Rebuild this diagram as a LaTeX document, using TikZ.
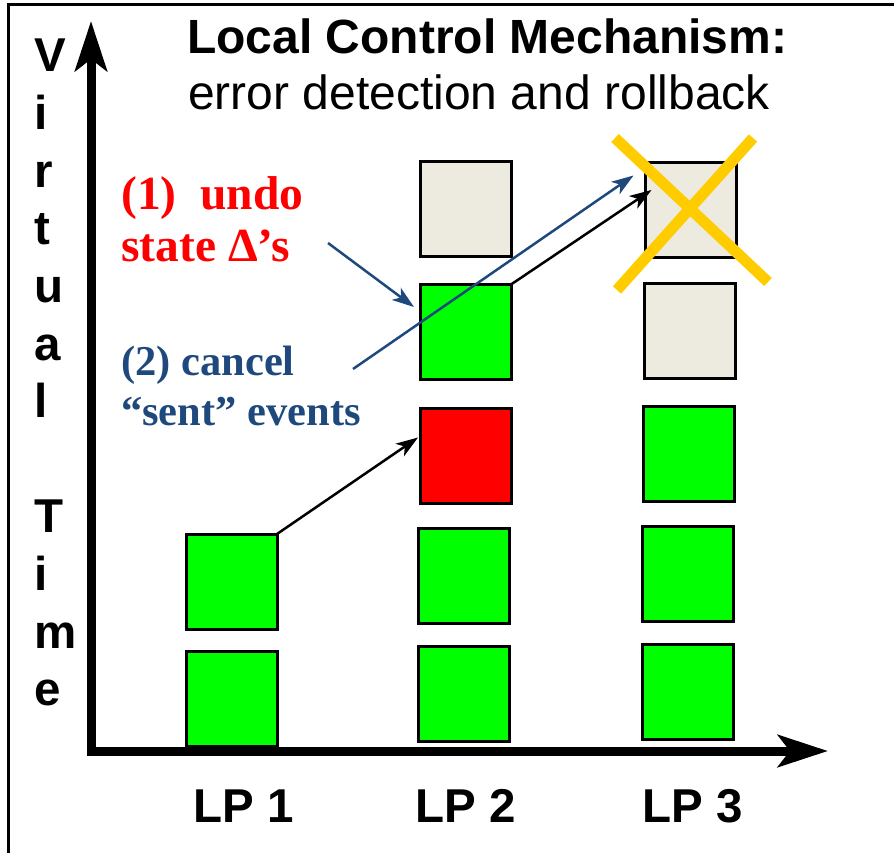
\documentclass[tikz,border=0pt]{standalone}
\usepackage{fontspec}
\setmainfont{Liberation Sans}
\newfontfamily\timesfont{Liberation Serif}
\usetikzlibrary{arrows.meta,calc}

\definecolor{boxgreen}{RGB}{0,255,0}
\definecolor{boxred}{RGB}{255,0,0}
\definecolor{boxgrey}{RGB}{237,234,223}
\definecolor{noteblue}{RGB}{31,73,125}
\definecolor{notered}{RGB}{255,0,0}
\definecolor{crossyellow}{RGB}{255,204,0}

\begin{document}
\begin{tikzpicture}[x=1pt,y=-1pt,
  evbox/.style={draw=black, line width=3pt, minimum width=91pt, minimum height=95pt,
                inner sep=0pt, outer sep=0pt},
  sanslbl/.style={anchor=base west, inner sep=0pt, font=\bfseries\fontsize{47.5}{57}\selectfont},
  axisline/.style={line width=9pt, -{Stealth[length=50pt,width=32pt,inset=12pt]}},
  msgarrow/.style={line width=2.5pt, -{Stealth[length=22pt,width=15pt,inset=6pt]}},
  notetext/.style={anchor=base west, inner sep=0pt, font=\timesfont\bfseries\fontsize{#1}{#1}\selectfont},
  crossline/.style={line width=11pt, crossyellow}]
\useasboundingbox (0,0) rectangle (894,853);

% frame (left and top edges)
\draw[line width=3pt] (8.5,853) -- (8.5,5) -- (894,5);

% title
\node[sanslbl, font=\bfseries\fontsize{48}{57}\selectfont] (title) at (187,54) {Local Control Mechanism:};
\node[sanslbl, font=\fontsize{48}{57}\selectfont] (subtitle) at (188,110) {error detection and rollback};

% vertical axis caption
\foreach \ch [count=\k from 0] in {V,i,r,t,u,a,l}
  \node[sanslbl] (vt\k) at (34,72+57.6*\k) {\ch};
\foreach \ch [count=\k from 8] in {T,i,m,e}
  \node[sanslbl] (vt\k) at (34,72+57.6*\k) {\ch};

% event boxes, LP 1
\node[evbox, fill=boxgreen] (a1) at (231.5,699) {};
\node[evbox, fill=boxgreen] (a2) at (231.5,581.5) {};
% LP 2
\node[evbox, fill=boxgreen] (b1) at (464,693.5) {};
\node[evbox, fill=boxgreen] (b2) at (464,576) {};
\node[evbox, fill=boxred]   (b3) at (465.5,455.5) {};
\node[evbox, fill=boxgreen] (b4) at (465.5,332) {};
\node[evbox, fill=boxgrey]  (b5) at (465.5,209) {};
% LP 3
\node[evbox, fill=boxgreen] (c1) at (688,692) {};
\node[evbox, fill=boxgreen] (c2) at (688,574) {};
\node[evbox, fill=boxgreen] (c3) at (689,454) {};
\node[evbox, fill=boxgrey]  (c4) at (689.5,331) {};
\node[evbox, fill=boxgrey]  (c5) at (691,210) {};

% annotations
\node[notetext=47.5, notered] (undo1) at (121,210) {(1)~~undo};
\node[notetext=47.5, notered] (undo2) at (121,261) {state Δ’s};
\node[notetext=42.5, noteblue] (cancel1) at (121,375) {(2) cancel};
\node[notetext=42.5, noteblue] (cancel2) at (121,425) {“sent” events};

\coordinate (undotail) at (328,243);
\coordinate (canceltail) at (353,369);

% messages between LPs
\draw[msgarrow] (a2.north east) -- ([xshift=-2pt,yshift=18pt]b3.west);
\draw[msgarrow] (b4.north east) -- ([xshift=6pt,yshift=20pt]c5.west);

% annotation pointers
\draw[msgarrow, noteblue] (canceltail) -- ([xshift=-12pt,yshift=-13pt]c5.north west);
\draw[msgarrow, noteblue] (undotail) -- ([xshift=-6pt,yshift=25pt]b4.west);

% cancelled event
\draw[crossline] ($(c5)+(-76,-72)$) -- ($(c5)+(77,72)$);
\draw[crossline] ($(c5)+(62,-72)$) -- ($(c5)+(-74,80)$);

% axes
\coordinate (origin) at (91,751);
\draw[axisline] ([yshift=-5pt]origin) -- (91,21);
\draw[axisline] ([xshift=-4pt]origin) -- (828,751);

% LP labels
\node[sanslbl] (lp1) at (193,822) {LP 1};
\node[sanslbl] (lp2) at (415,822) {LP 2};
\node[sanslbl] (lp3) at (642,822) {LP 3};
\end{tikzpicture}
\end{document}
